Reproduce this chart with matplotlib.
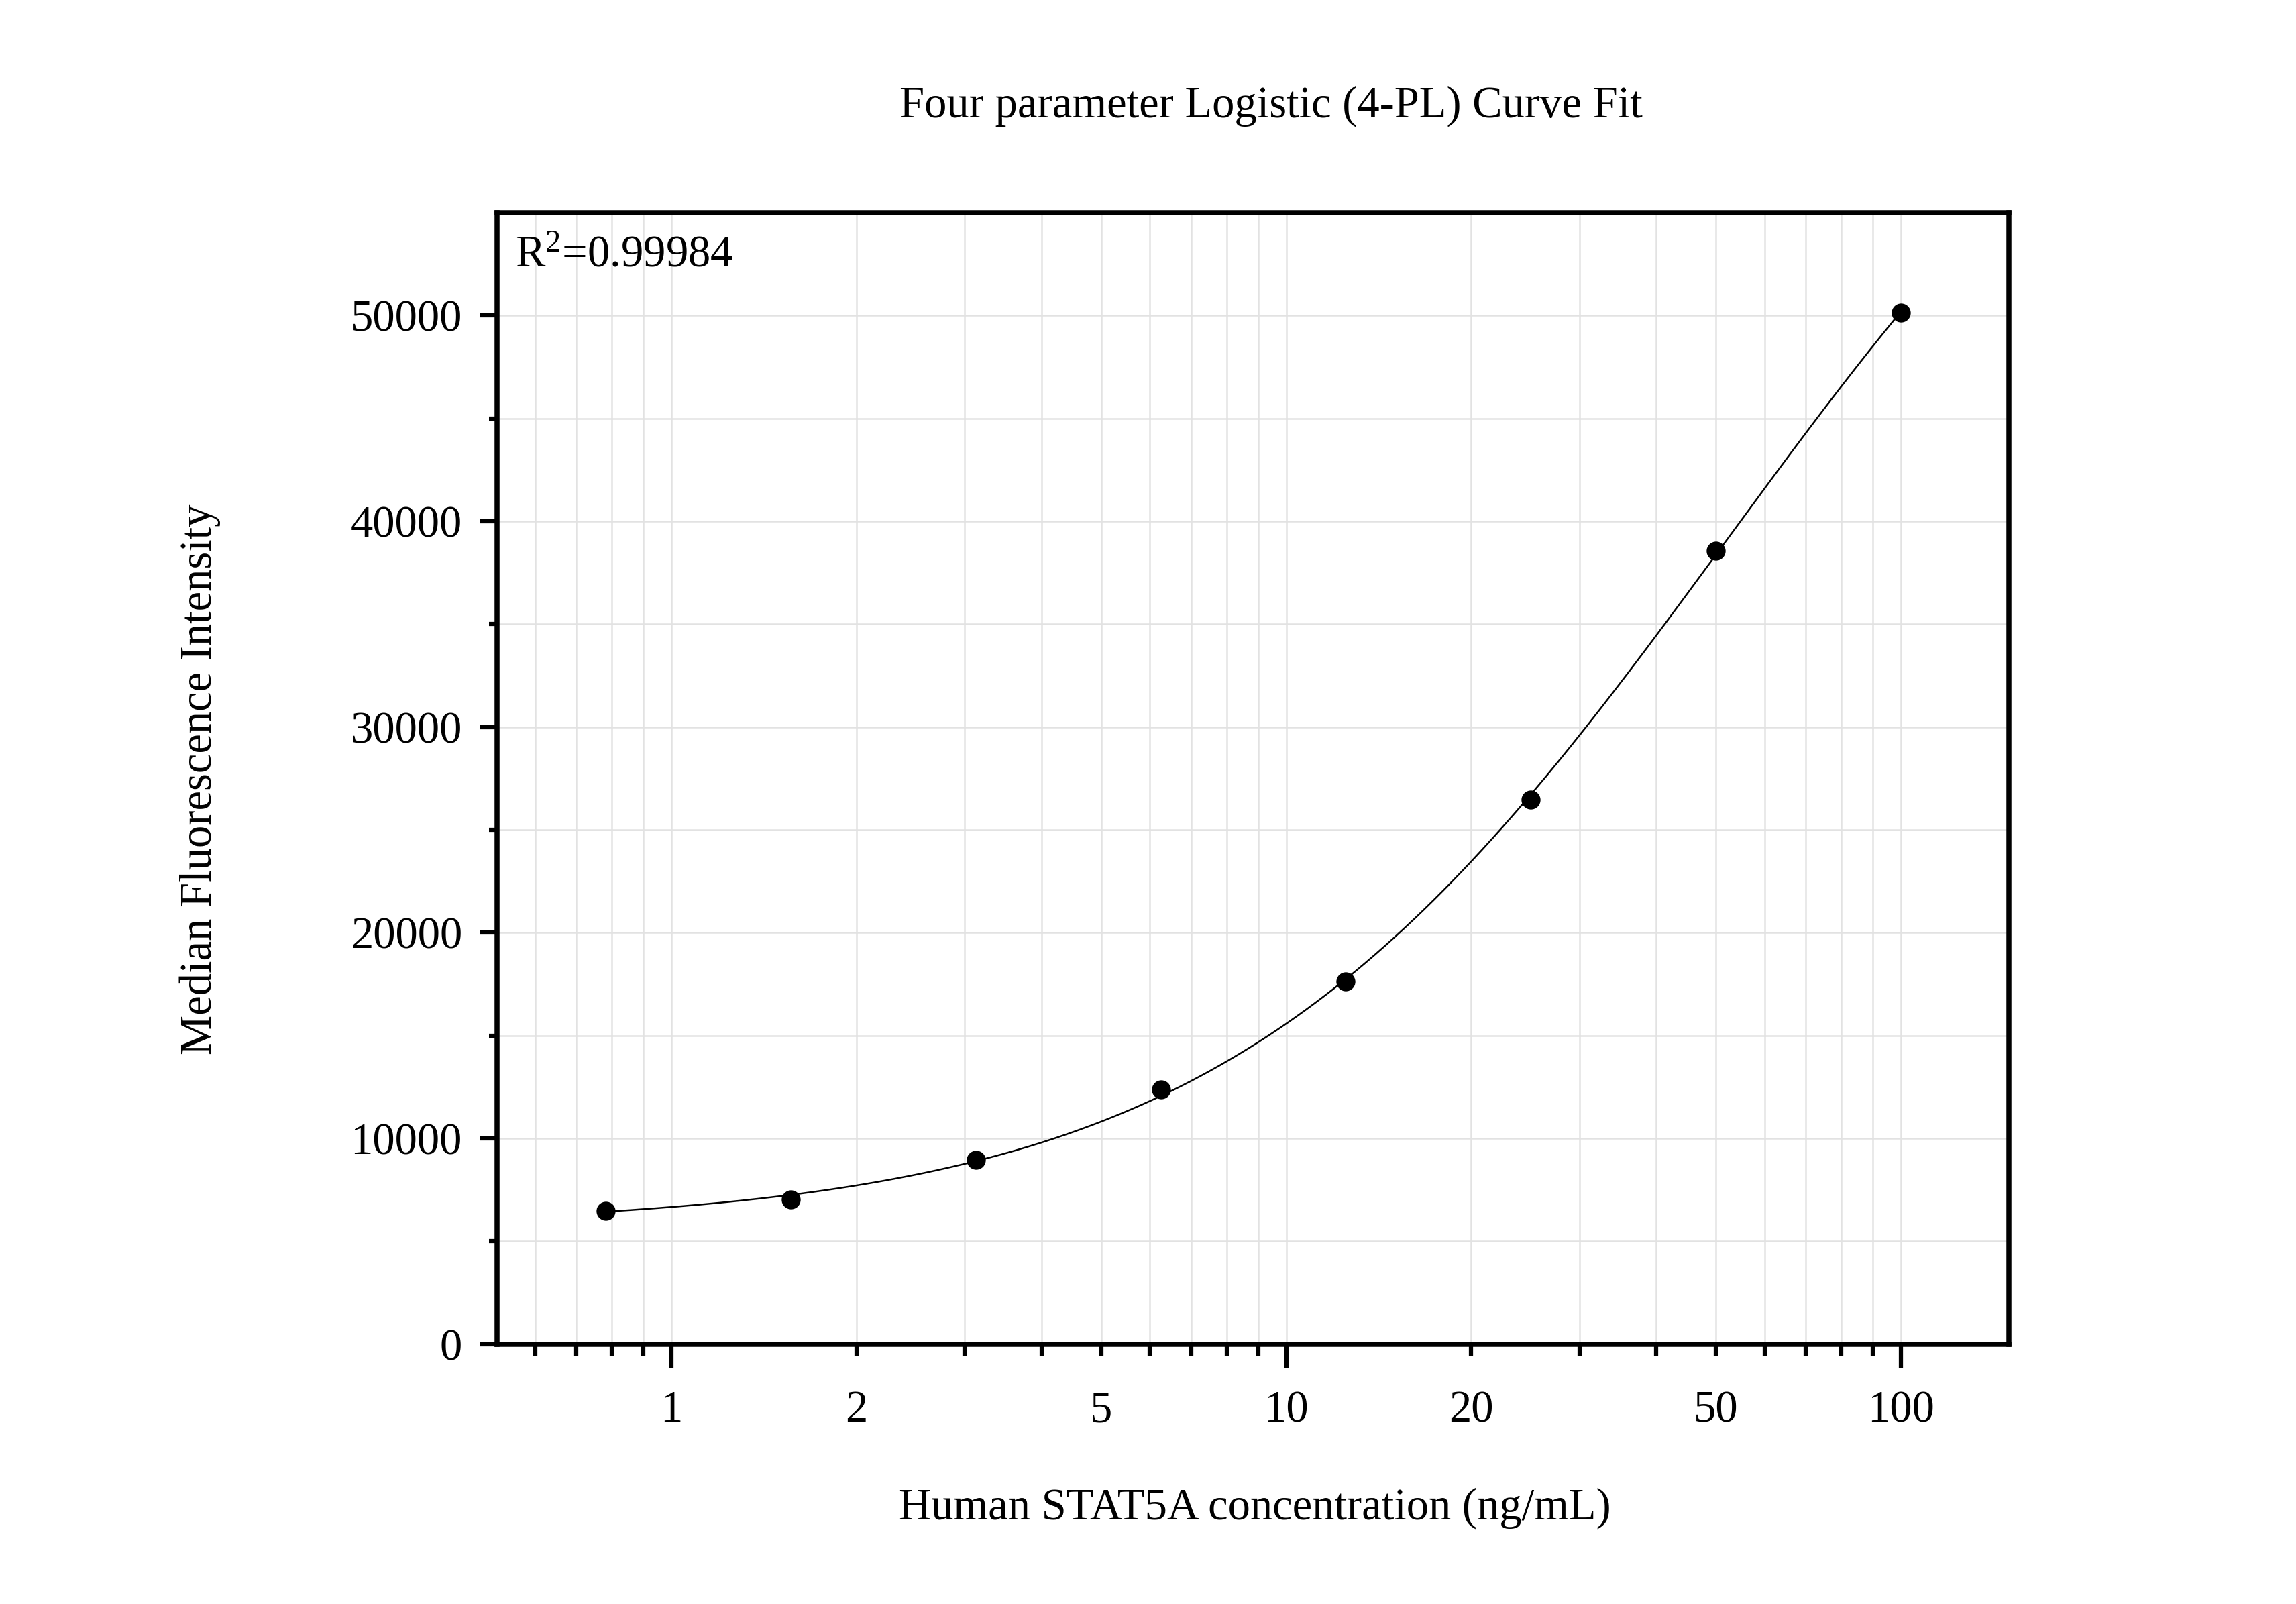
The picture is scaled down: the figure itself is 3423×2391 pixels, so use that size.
import numpy as np
import matplotlib
matplotlib.use("Agg")
import matplotlib.pyplot as plt
from matplotlib.ticker import FixedLocator, FuncFormatter, NullFormatter

conc = [0.78125, 1.5625, 3.125, 6.25, 12.5, 25, 50, 100]
mfi = [6470, 7040, 8960, 12380, 17640, 26460, 38550, 50140]
x_labels = [1, 2, 5, 10, 20, 50, 100]
r2_text = "R$^{2}$=0.99984"

plt.rcParams['font.family'] = ['Liberation Serif', 'DejaVu Serif']
plt.rcParams['mathtext.fontset'] = 'custom'
plt.rcParams['mathtext.rm'] = 'Liberation Serif'
plt.rcParams['mathtext.it'] = 'Liberation Serif:italic'

x = np.array(conc, dtype=float)
y = np.array(mfi, dtype=float)

# 4PL fit: y = d + (a - d) / (1 + (x/c)^b); grid over c, b, linear solve for a, d
cs = np.logspace(0, 4.5, 300)[:, None, None]
bs = np.linspace(0.3, 3.0, 271)[None, :, None]
g = 1.0 / (1.0 + (x[None, None, :] / cs) ** bs)
h = 1.0 - g
s_gg = (g * g).sum(-1); s_hh = (h * h).sum(-1); s_gh = (g * h).sum(-1)
s_gy = (g * y).sum(-1); s_hy = (h * y).sum(-1)
det = s_gg * s_hh - s_gh ** 2
a_fit = (s_gy * s_hh - s_hy * s_gh) / det
d_fit = (s_hy * s_gg - s_gy * s_gh) / det
pred = a_fit[..., None] * g + d_fit[..., None] * h
sse = ((pred - y) ** 2).sum(-1)
i, j = np.unravel_index(np.nanargmin(sse), sse.shape)
c_best, b_best = cs[i, 0, 0], bs[0, j, 0]
a_best, d_best = a_fit[i, j], d_fit[i, j]

xs = np.logspace(np.log10(x.min()), np.log10(x.max()), 400)
ys = d_best + (a_best - d_best) / (1 + (xs / c_best) ** b_best)

fig = plt.figure(figsize=(3423 / 300, 2391 / 300), dpi=300)
ax = fig.add_axes([0.2165, 0.162, 0.6585, 0.7055])

ax.plot(xs, ys, color='black', lw=0.6, zorder=3)
ax.plot(x, y, 'o', color='black', ms=5.8, zorder=4)

ax.set_xscale('log')
ax.set_xlim(0.52, 150)
ax.set_ylim(0, 55000)

ax.xaxis.set_major_locator(FixedLocator([1, 10, 100]))
minors = [m * 10.0 ** e for e in (-1, 0, 1, 2) for m in range(2, 10)]
minors = [v for v in minors if 0.52 < v < 150]
ax.xaxis.set_minor_locator(FixedLocator(minors))
ax.xaxis.set_major_formatter(FuncFormatter(lambda v, p: f"{v:g}"))
ax.xaxis.set_minor_formatter(FuncFormatter(
    lambda v, p: f"{v:g}" if any(abs(v - l) < 1e-6 for l in x_labels) else ""))

ax.yaxis.set_major_locator(FixedLocator(np.arange(0, 50001, 10000)))
ax.yaxis.set_minor_locator(FixedLocator(np.arange(5000, 55000, 10000)))
ax.yaxis.set_minor_formatter(NullFormatter())

ax.tick_params(axis='x', which='major', length=8.5, width=1.5, pad=8, labelsize=16)
ax.tick_params(axis='x', which='minor', length=4.2, width=1.5, pad=8 + 4.3, labelsize=16)
ax.tick_params(axis='y', which='major', length=6, width=1.5, pad=6.5, labelsize=16)
ax.tick_params(axis='y', which='minor', length=3, width=1.5)

for s in ax.spines.values():
    s.set_linewidth(1.8)

ax.grid(True, which='both', color='#e2e2e2', lw=0.6, zorder=0)
ax.set_axisbelow(True)

ax.text(0.012, 0.962, r2_text, transform=ax.transAxes, ha='left', va='center', fontsize=16)

fig.text(0.5537, 0.934, 'Four parameter Logistic (4-PL) Curve Fit', ha='center', va='center', fontsize=16)
fig.text(0.5466, 0.0597, 'Human STAT5A concentration (ng/mL)', ha='center', va='center', fontsize=16)
fig.text(0.087, 0.514, 'Median Fluorescence Intensity', ha='center', va='center', rotation=90, fontsize=16)

fig.savefig('out.png', dpi=300)
